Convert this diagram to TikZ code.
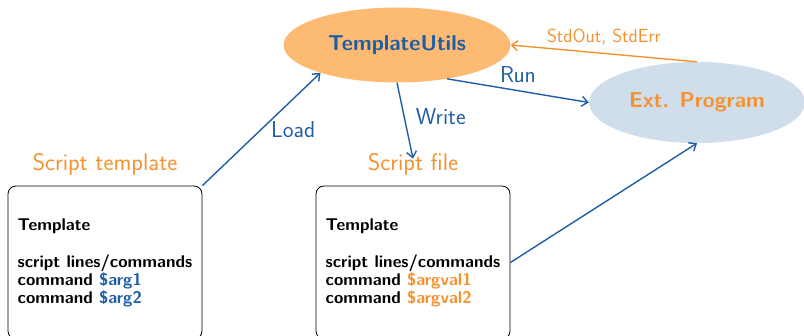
\documentclass[tikz,border=0pt]{standalone}
\usepackage{fontspec}
\usetikzlibrary{shapes.geometric,arrows.meta}
\definecolor{tblue}{RGB}{31,94,166}
\definecolor{torange}{RGB}{245,146,47}
\definecolor{tfill}{RGB}{252,186,115}
\definecolor{pfill}{RGB}{208,221,234}
\tikzset{
  oval/.style={ellipse, inner sep=0pt, font=\sffamily\bfseries\fontsize{21.6}{26}\selectfont},
  scriptbox/.style={draw, rounded corners=8pt, line width=0.8pt, minimum width=194pt, minimum height=153pt,
    align=left, inner sep=0pt, font=\sffamily\bfseries\fontsize{17}{18}\selectfont},
  caption/.style={text=torange, font=\sffamily\fontsize{24}{28}\selectfont},
  flow/.style={draw=tblue, line width=1.4pt, -{Straight Barb[length=6pt,width=10pt]}},
  back/.style={draw=torange, line width=1.4pt, -{Straight Barb[length=6pt,width=10pt]}},
  flowlabel/.style={text=tblue, inner sep=0pt, font=\sffamily\fontsize{23}{27}\selectfont},
}
\begin{document}
\begin{tikzpicture}[x=1pt,y=-1pt]
\useasboundingbox (0,0) rectangle (804,336);

% main nodes
\node[oval, fill=tfill, text=tblue, minimum width=227pt, minimum height=75pt] (tu) at (397,45) {TemplateUtils};
\node[oval, fill=pfill, text=torange, minimum width=216pt, minimum height=81pt] (ep) at (697,102.5) {Ext. Program};

\node[scriptbox] (b1) at (105,262.5) {Template\\[19pt]script lines/commands\\command \textcolor{tblue}{\$arg1}\\command \textcolor{tblue}{\$arg2}};
\node[scriptbox] (b2) at (413,262.5) {Template\\[19pt]script lines/commands\\command \textcolor{torange}{\$argval1}\\command \textcolor{torange}{\$argval2}};

\node[caption] (c1) at (105,164) {Script template};
\node[caption] (c2) at (413,164) {Script file};

% connectors
\draw[flow] (b1.north east) -- node[flowlabel, anchor=west, xshift=9pt] {Load} (tu.200);
\draw[flow] (tu.south) -- node[flowlabel, pos=0.45, anchor=west, xshift=11pt] {Write} ([yshift=-9pt]c2.north);
\draw[flow] (tu.-34) -- node[flowlabel, anchor=south, yshift=7pt] {Run} (ep.west);
\draw[back] (ep.north) -- node[text=torange, anchor=south, yshift=8pt, inner sep=0pt, font=\sffamily\fontsize{19}{22}\selectfont] {StdOut, StdErr} (tu.east);
\draw[flow] (b2.east) -- (ep.south);
\end{tikzpicture}
\end{document}
